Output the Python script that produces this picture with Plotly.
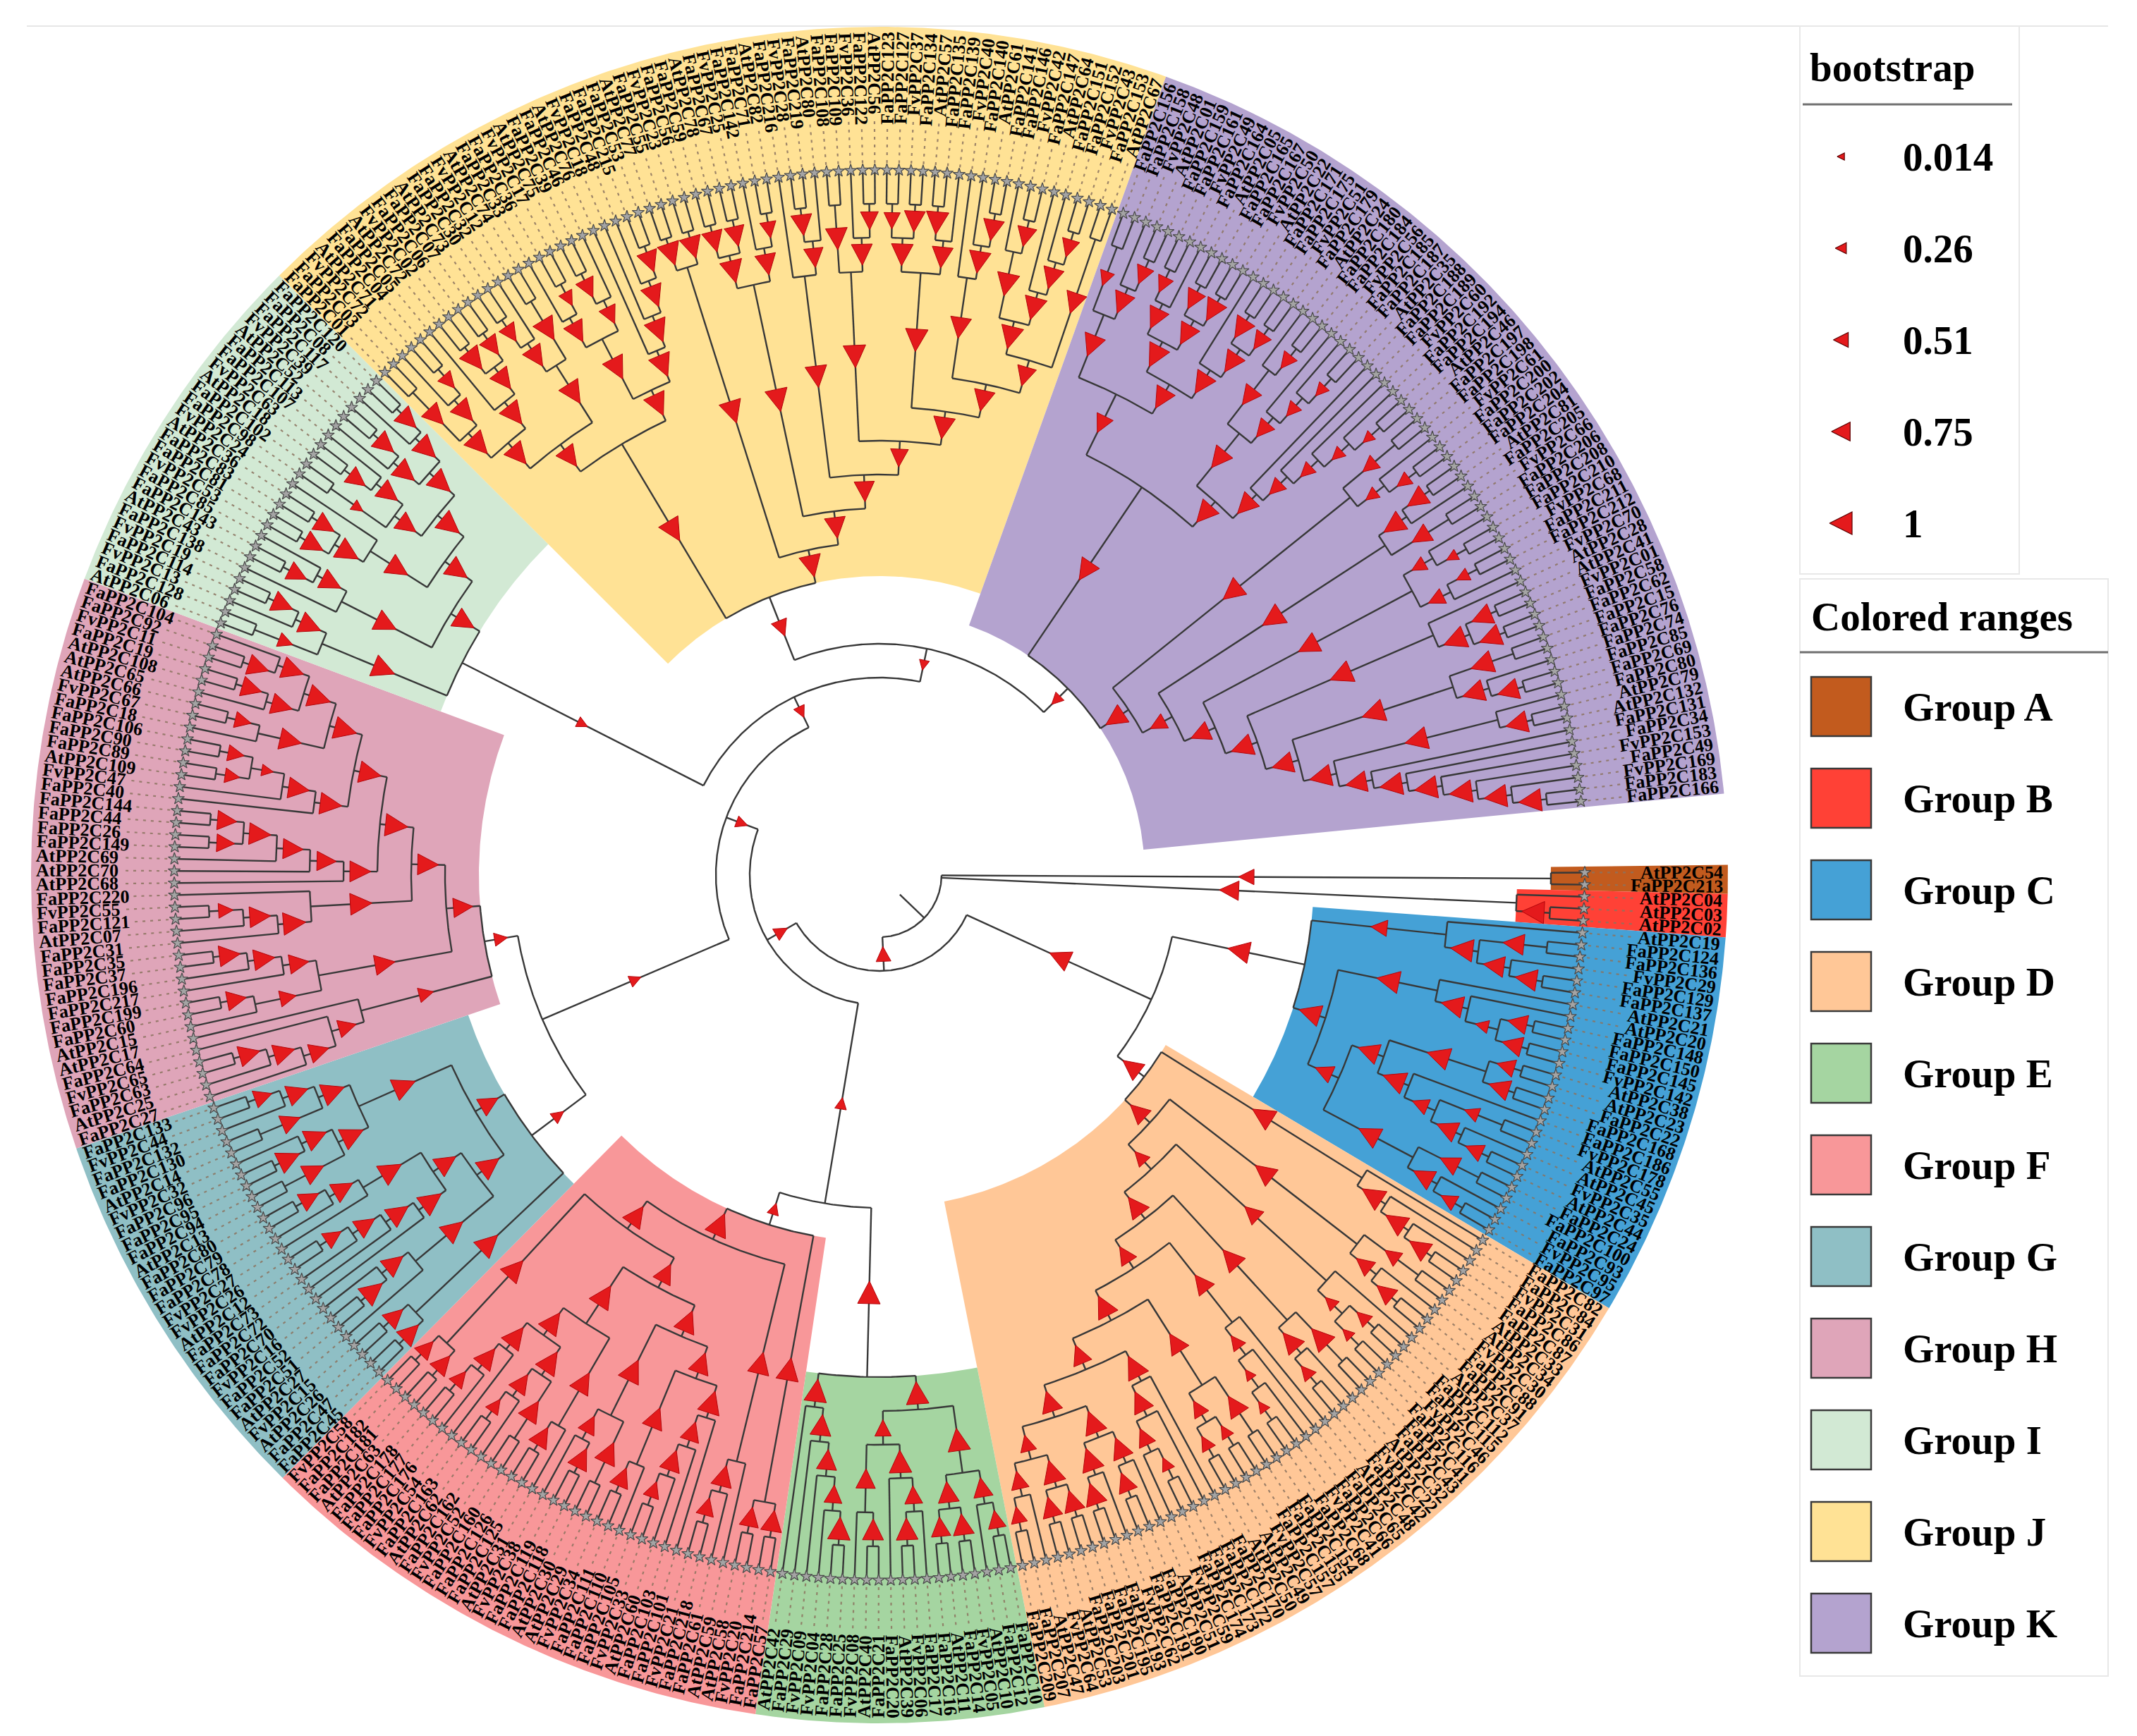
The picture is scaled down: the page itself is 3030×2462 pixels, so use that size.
import math
import plotly.graph_objects as go

# ---------------------------------------------------------------- data
GROUPS = ["A", "B", "C", "D", "E", "F", "G", "H", "I", "J", "K"]
GROUP_COLORS = ["#c25b1e", "#ff4136", "#45a1d6", "#ffc797", "#a5d5a1", "#f89799",
                "#8fbfc5", "#dfa5b9", "#d2e9d4", "#ffe295", "#b4a3cf"]
BOOT_LEGEND = [0.014, 0.26, 0.51, 0.75, 1]

# backbone joining the groups, support value after each ")"
BACKBONE = "(A,B,((C,D)0.9,((E,F)0.3,((G,H)0.3,(I,(J,K)0.2)0.3)0.3)0.4)0.5)"

# group subtrees: "*" takes the next name of the group list
NAMES_A = ["AtPP2C54", "FaPP2C213"]
TOPO_A = "(*,*)0.55"

NAMES_B = ["AtPP2C04", "AtPP2C03", "AtPP2C02"]
TOPO_B = "(*,(*,*)0.98)0.8"

NAMES_C = ["AtPP2C19", "FaPP2C124", "FaPP2C136", "FvPP2C29", "FaPP2C129", "FaPP2C137",
           "AtPP2C21", "AtPP2C20", "FaPP2C148", "FaPP2C150", "FaPP2C145", "FvPP2C142",
           "AtPP2C38", "AtPP2C23", "FaPP2C22", "FaPP2C168", "FaPP2C186", "FvPP2C178",
           "AtPP2C55", "AtPP2C45", "FvPP2C35", "AtPP2C44", "FaPP2C24", "FaPP2C100",
           "FaPP2C93", "FvPP2C95", "FaPP2C97"]
C_1 = "(*,((*,*)0.9,(*,(*,*)0.95)0.9)1)0.6"
C_2 = "(*,(*,((*,*)0.8,(*,*)0.85)0.4)0.95)1"
C_3 = "((*,*)0.7,(*,*)0.9)1"
C_4 = "(*,((*,*)0.5,(*,(*,*)0.7)0.9)0.6)1"
C_5 = "((*,*)0.8,(*,(*,*)0.6)0.9)0.95"
TOPO_C = f"({C_1},({C_2},(({C_3},{C_4})0.9,{C_5})0.7)0.95)0.95"

NAMES_D = ["FaPP2C82", "FaPP2C84", "FvPP2C31", "FaPP2C86", "FaPP2C87", "AtPP2C33", "AtPP2C34",
           "FvPP2C30", "FaPP2C88", "FaPP2C91", "AtPP2C37", "FaPP2C112", "FaPP2C115", "FvPP2C46",
           "FaPP2C116", "FaPP2C41", "FaPP2C43", "AtPP2C32", "FvPP2C22", "FaPP2C42", "AtPP2C48",
           "FaPP2C65", "FaPP2C66", "FvPP2C41", "FaPP2C68", "FaPP2C154", "FaPP2C155", "FaPP2C157",
           "FvPP2C57", "AtPP2C49", "AtPP2C50", "FaPP2C170", "FaPP2C172", "FaPP2C173", "FaPP2C174",
           "FvPP2C59", "AtPP2C51", "FaPP2C190", "FaPP2C191", "FvPP2C62", "FaPP2C193", "FaPP2C195",
           "FaPP2C201", "FaPP2C203", "AtPP2C53", "FvPP2C64", "AtPP2C47", "FaPP2C207", "FaPP2C209"]
D_a = "(*,(*,(*,(*,*)0.9)0.95)1)0.98"
D_b = "((*,*)0.6,(*,(*,*)0.8)0.7)0.9"
D_c = "(*,((*,*)0.5,(*,*)0.3)0.4)0.7"
D_d = "((*,*)1,(*,(*,*)0.5)0.9)0.95"
D_e = "(*,(*,(*,(*,*)0.3)0.25)0.5)0.8"
D_f = "((*,*)0.9,((*,*)0.4,(*,*)0.5)0.6)0.85"
D_g = "(*,(*,((*,*)0.4,*)0.7)0.9)1"
D_h = "((*,(*,*)0.8)0.9,(*,(*,*)0.95)1)1"
D_i = "((*,*)0.9,(*,*)0.85)1"
D_j = "(*,(*,*)0.6)0.7"
TOPO_D = (f"({D_a},({D_b},({D_c},({D_d},({D_e},({D_f},({D_g},({D_h},({D_i},{D_j})0.6)0.9)"
          f"0.8)0.95)0.7)0.9)0.5)0.8)0.85")

NAMES_E = ["FaPP2C10", "FaPP2C12", "AtPP2C10", "FvPP2C05", "FaPP2C14", "AtPP2C11", "FaPP2C16",
           "FaPP2C17", "FvPP2C06", "AtPP2C39", "FaPP2C20", "FaPP2C21", "AtPP2C40", "FvPP2C08",
           "FaPP2C25", "FaPP2C28", "FvPP2C04", "FvPP2C09", "FaPP2C29", "AtPP2C42"]
E_l1 = "(((*,*)0.7,*)0.8,((*,*)0.9,(*,*)0.8)0.9)1"
E_l2 = "(((*,(*,*)0.95)0.7,*)1,((*,*)0.9,*)0.8)0.6"
E_r = "(((((*,*)1,*)0.7,*)0.85,*)0.9,*)1"
TOPO_E = f"(({E_l1},{E_l2})1,{E_r})1"

NAMES_F = ["FaPP2C57", "FaPP2C214", "FvPP2C20", "AtPP2C58", "AtPP2C59", "FaPP2C61", "FaPP2C218",
           "FvPP2C21", "FaPP2C101", "FaPP2C103", "AtPP2C60", "FvPP2C33", "FaPP2C105", "FaPP2C110",
           "FaPP2C111", "FvPP2C34", "AtPP2C29", "AtPP2C30", "FaPP2C118", "FaPP2C119", "FvPP2C38",
           "AtPP2C31", "FaPP2C125", "FaPP2C126", "FaPP2C160", "FvPP2C52", "FaPP2C162", "AtPP2C62",
           "FaPP2C163", "FvPP2C54", "FaPP2C176", "FaPP2C177", "FaPP2C178", "AtPP2C63", "FaPP2C181",
           "FaPP2C182", "FvPP2C58"]
F_a = "((*,*)0.9,(*,*)0.8)1"
F_b = "(*,(*,(*,*)0.7)0.9)0.95"
F_c = "(*,(*,(*,(*,*)0.6)0.9)0.8)1"
F_d = "(*,(*,*)0.8)0.9"
F_e = "((*,*)0.95,((*,*)0.9,*)0.7)1"
F_f = "(*,(*,*)0.85)0.9"
F_g = "((*,*)0.9,(*,(*,*)0.5)0.8)1"
F_h = "(*,(*,(*,*)0.6)0.9)0.95"
F_i = "((*,*)0.8,(*,*)0.7)0.95"
TOPO_F = f"({F_a},({F_b},(((({F_c},{F_d})0.9,{F_e})0.95,({F_f},({F_g},{F_h})0.95)1)0.8,{F_i})0.9)1)0.3"

NAMES_G = ["FaPP2C45", "FaPP2C47", "AtPP2C26", "FvPP2C15", "AtPP2C27", "FaPP2C51", "FaPP2C52",
           "FvPP2C16", "FaPP2C70", "FaPP2C72", "FaPP2C73", "AtPP2C12", "FvPP2C26", "FvPP2C27",
           "FaPP2C78", "FaPP2C79", "FaPP2C80", "AtPP2C13", "FaPP2C94", "FaPP2C95", "FaPP2C96",
           "FvPP2C32", "AtPP2C14", "FaPP2C130", "FaPP2C132", "FvPP2C44", "FaPP2C133"]
G_a = "((*,*)0.9,(*,*)0.8)1"
G_b = "(*,((*,*)1,*)0.9)0.95"
G_c = "(*,(*,(*,(*,*)0.7)0.85)0.95)1"
G_d = "(*,(*,(*,*)0.8)0.9)1"
G_e = "((*,*)0.9,((*,*)1,*)0.95)1"
G_f = "((*,*)0.8,(*,(*,*)0.7)0.9)1"
TOPO_G = f"({G_a},(({G_b},({G_c},{G_d})0.9)0.95,({G_e},{G_f})1)0.8)0.35"

# group H is listed as read on the page, top to bottom (mirrored later)
NAMES_H = ["FaPP2C104", "FaPP2C92", "FvPP2C11", "FaPP2C19", "AtPP2C108", "AtPP2C65", "AtPP2C66",
           "FvPP2C67", "FaPP2C18", "FaPP2C106", "FaPP2C90", "FaPP2C89", "AtPP2C109", "FvPP2C47",
           "FaPP2C40", "FaPP2C144", "FaPP2C44", "FaPP2C26", "FaPP2C149", "AtPP2C69", "AtPP2C70",
           "AtPP2C68", "FaPP2C220", "FvPP2C55", "FaPP2C121", "AtPP2C07", "FaPP2C31", "FaPP2C35",
           "FaPP2C37", "FaPP2C196", "FaPP2C217", "FaPP2C199", "FaPP2C60", "AtPP2C15", "AtPP2C17",
           "FaPP2C64", "FvPP2C65", "FaPP2C63", "AtPP2C25", "FaPP2C27"]
H_a = "(((*,(*,*)0.9)0.95,((*,*)0.85,*)0.9)1,((*,*)0.6,*)0.95)1"
H_b = "((((*,*)0.6,(*,*)0.5)0.3,*)0.9,*)0.95"
H_c = "(((((*,*)0.8,(*,*)0.7)0.95,*)0.85,*)0.8,*)0.9"
H_d = "(*,(((*,*)0.5,*)0.9,*)1)0.95"
H_e = "((((*,*)0.9,*)0.9,*)0.8,((*,*)0.8,*)0.6)0.85"
H_f = "(*,(*,(((*,*)0.9,*)0.9,*)0.8)0.7)0.5"
TOPO_H = f"((((({H_a},{H_b})0.95,{H_c})1,{H_d})0.9,{H_e})0.8,{H_f})0.4"
MIRRORED = ["H"]

NAMES_I = ["AtPP2C06", "FaPP2C128", "FvPP2C13", "FaPP2C114", "FvPP2C19", "FaPP2C138", "AtPP2C43",
           "FaPP2C143", "FaPP2C85", "FvPP2C53", "FaPP2C81", "FaPP2C83", "AtPP2C36", "FvPP2C24",
           "FaPP2C98", "FaPP2C102", "AtPP2C18", "FvPP2C63", "FaPP2C107", "FaPP2C113", "AtPP2C52",
           "FvPP2C39", "FaPP2C117", "FaPP2C08", "FaPP2C120"]
I_a = "((*,*)0.5,(*,(*,*)0.9)0.95)1"
I_b = "(*,((*,*)0.8,*)0.9)0.95"
I_c = "(((*,*)0.9,(*,*)0.85)1,*)0.95"
I_d = "((*,*)0.3,((*,*)0.8,*)0.9)0.85"
I_e = "((*,(*,*)0.9)0.95,(*,(*,*)0.9)1)1"
TOPO_I = f"({I_a},({I_b},({I_c},({I_d},{I_e})1)0.95)0.9)0.25"

NAMES_J = ["FaPP2C01", "FaPP2C03", "FvPP2C72", "AtPP2C71", "FaPP2C04", "FaPP2C05", "AtPP2C72",
           "FvPP2C02", "FaPP2C06", "FaPP2C07", "AtPP2C73", "FaPP2C30", "FaPP2C32", "FvPP2C12",
           "AtPP2C74", "FaPP2C33", "FaPP2C36", "FvPP2C17", "AtPP2C75", "FaPP2C39", "FaPP2C46",
           "AtPP2C76", "FvPP2C18", "FaPP2C48", "FaPP2C215", "FaPP2C53", "AtPP2C77", "FaPP2C55",
           "FvPP2C23", "FaPP2C56", "FaPP2C59", "AtPP2C78", "FaPP2C67", "FvPP2C25", "FaPP2C142",
           "FaPP2C71", "AtPP2C82", "FaPP2C216", "FvPP2C28", "FaPP2C219", "AtPP2C80", "FaPP2C108",
           "FaPP2C109", "FvPP2C36", "FaPP2C122", "AtPP2C56", "FaPP2C123", "FaPP2C127", "FvPP2C37",
           "FaPP2C134", "AtPP2C57", "FaPP2C135", "FaPP2C139", "FvPP2C40", "FaPP2C140", "AtPP2C61",
           "FaPP2C141", "FaPP2C146", "FvPP2C42", "FaPP2C147", "AtPP2C64", "FaPP2C151", "FaPP2C152",
           "FvPP2C43", "FaPP2C153", "AtPP2C67"]
J_1 = "((*,*)0.9,(*,(*,*)0.6)0.95)1"
J_2 = "(*,((*,*)1,(*,*)0.8)0.9)1"
J_3 = "(((*,*)0.7,*)0.9,(*,*)1)1"
J_4 = "((*,(*,*)0.5)0.9,((*,*)0.8,*)0.7)1"
J_5 = "(*,(*,(*,(*,*)0.9)0.95)1)1"
J_6 = "((*,*)1,(*,*)0.95)1"
J_7 = "(((*,*)0.9,(*,*)0.85)1,(*,(*,*)0.6)0.9)1"
J_8 = "(*,((*,*)0.9,*)0.8)0.95"
J_9 = "((*,*)0.95,(*,(*,*)0.7)0.9)1"
J_10 = "(((*,*)0.6,(*,*)0.9)0.95,((*,*)1,*)0.9)1"
J_11 = "(*,(*,(*,*)0.9)0.95)0.9"
J_12 = "((*,(*,*)0.8)1,(*,(*,(*,*)0.7)0.9)1)1"
J_13 = "(*,*)0.9"
TOPO_J = (f"(((({J_1},{J_2})0.95,{J_3})0.9,({J_4},{J_5})1)1,({J_6},({J_7},({J_8},({J_9},"
          f"({J_10},({J_11},({J_12},{J_13})0.8)0.9)0.95)0.7)0.85)0.9)0.95)0.6")

NAMES_K = ["FaPP2C156", "FaPP2C158", "FvPP2C48", "AtPP2C01", "FaPP2C159", "FaPP2C161", "FvPP2C49",
           "FaPP2C164", "AtPP2C05", "FaPP2C165", "FaPP2C167", "FvPP2C50", "AtPP2C22", "FaPP2C171",
           "FaPP2C175", "FvPP2C51", "FaPP2C179", "AtPP2C24", "FaPP2C180", "FaPP2C184", "FvPP2C56",
           "FaPP2C185", "FaPP2C187", "AtPP2C35", "FaPP2C188", "FaPP2C189", "FvPP2C60", "FaPP2C192",
           "FaPP2C194", "AtPP2C46", "FaPP2C197", "FaPP2C198", "FvPP2C61", "FaPP2C200", "FaPP2C202",
           "FaPP2C204", "AtPP2C81", "FaPP2C205", "FvPP2C66", "FaPP2C206", "FaPP2C208", "FaPP2C210",
           "FvPP2C68", "FaPP2C211", "FaPP2C212", "FvPP2C70", "AtPP2C28", "AtPP2C41", "FvPP2C01",
           "FaPP2C58", "FaPP2C62", "FaPP2C15", "FaPP2C76", "FaPP2C74", "FaPP2C85", "FaPP2C69",
           "FaPP2C80", "AtPP2C79", "AtPP2C132", "FaPP2C131", "FaPP2C34", "FvPP2C153", "FaPP2C49",
           "FvPP2C169", "FaPP2C183", "FaPP2C166"]
K_1 = "((*,*)0.5,(*,(*,*)0.7)0.9)0.95"
K_2 = "(((*,*)0.6,*)0.9,((*,*)0.8,(*,*)0.95)0.9)1"
K_3 = "(*,((*,*)0.9,(*,*)0.7)0.9)0.95"
K_4 = "((*,(*,*)0.6)0.8,(*,(*,(*,*)0.4)0.5)0.7)0.9"
K_5 = "(*,(*,(*,(*,(*,*)0.3)0.4)0.5)0.6)0.9"
K_6 = "((*,*)0.6,(*,(*,*)0.5)0.4)0.95"
K_7 = "(((*,*)0.9,*)0.95,(*,*)0.8)1"
K_8 = "((*,(*,*)0.3)0.5,((*,*)0.4,*)0.6)0.9"
K_9 = "(*,((*,*)0.9,(*,*)0.95)1)1"
K_10 = "((*,*)1,(*,(*,*)0.9)0.95)1"
K_11 = "(*,(*,*)0.95)1"
K_13 = "(*,(*,*)1)1"
TOPO_K = (f"((({K_1},({K_2},{K_3})0.9)0.7,({K_4},{K_5})0.95)0.9,({K_6},({K_7},({K_8},({K_9},"
          f"({K_10},({K_11},(*,(*,(*,(*,{K_13})1)1)1)0.9)0.95)0.9)0.95)0.8)0.6)0.9)0.3")

TOPOS = [TOPO_A, TOPO_B, TOPO_C, TOPO_D, TOPO_E, TOPO_F, TOPO_G, TOPO_H, TOPO_I, TOPO_J, TOPO_K]
NAMES = [NAMES_A, NAMES_B, NAMES_C, NAMES_D, NAMES_E, NAMES_F, NAMES_G, NAMES_H, NAMES_I,
         NAMES_J, NAMES_K]

# ---------------------------------------------------------------- geometry
W, H = 3030, 2462
CX, CY = 1239, 1233
R_TIP, R_ROOT = 1000, 88
R_END, R_OUT = 1196, 1203
THETA0, ARC = 0.2, 354.2
LABEL_SIZE = 26
FONT = "Liberation Serif, Times New Roman, serif"
CHAR_W = {"A": 722, "t": 333, "P": 611, "C": 722, "F": 611, "a": 500, "v": 500}
TRI_RED = "#e41a1c"


def text_w(s, size):
    return sum(CHAR_W.get(c, 500) for c in s) / 1000 * size


def parse(s, names=None):
    s = s.replace(" ", "")
    pos = 0
    it = iter(names or [])

    def label():
        nonlocal pos
        st = pos
        while pos < len(s) and s[pos] not in ",()":
            pos += 1
        return s[st:pos]

    def node():
        nonlocal pos
        if s[pos] == "(":
            pos += 1
            kids = [node()]
            while s[pos] == ",":
                pos += 1
                kids.append(node())
            pos += 1
            lab = label()
            return {"kids": kids, "sup": float(lab) if lab else None}
        lab = label()
        return {"name": next(it) if lab == "*" else lab}

    return node()


def mirror(n):
    if "kids" in n:
        n["kids"] = [mirror(k) for k in n["kids"][::-1]]
    return n


def tag(n, g):
    if "kids" in n:
        for k in n["kids"]:
            tag(k, g)
    else:
        n["g"] = g


group_root = {}
for g, topo, names in zip(GROUPS, TOPOS, NAMES):
    assert topo.count("*") == len(names), (g, topo.count("*"), len(names))
    t = parse(topo, names)
    if g in MIRRORED:
        mirror(t)
    tag(t, g)
    group_root[g] = t


def subst(n):
    if "kids" in n:
        n["kids"] = [subst(k) for k in n["kids"]]
        return n
    return group_root[n["name"]]


root = subst(parse(BACKBONE))
leaves = []


def index(n, parent=None):
    n["parent"] = parent
    if "kids" in n:
        for k in n["kids"]:
            index(k, n)
        n["h"] = 1 + max(k["h"] for k in n["kids"])
    else:
        n["h"] = 0
        leaves.append(n)


index(root)
DT = ARC / (len(leaves) - 1)
for i, lf in enumerate(leaves):
    lf["t"] = THETA0 - i * DT


def angles(n):
    if "kids" in n:
        for k in n["kids"]:
            angles(k)
        n["t"] = (n["kids"][0]["t"] + n["kids"][-1]["t"]) / 2


angles(root)
STEP = (R_TIP - R_ROOT) / root["h"]


def rad(n):
    return R_TIP - n["h"] * STEP


def xy(r, t):
    a = math.radians(t)
    return CX + r * math.cos(a), CY - r * math.sin(a)


def arc_pts(r, t0, t1, step=0.4):
    n = max(2, int(abs(t1 - t0) / step) + 2)
    return [xy(r, t0 + (t1 - t0) * k / (n - 1)) for k in range(n)]


def tri_size(v):
    return 10 + 22 * v


def tri_pts(px, py, t, s):
    # triangle centred on (px, py), tip pointing along screen angle t+180 (toward centre)
    a = math.radians(t)
    ux, uy = math.cos(a), -math.sin(a)
    vx, vy = -uy, ux
    tip = (px - ux * s / 2, py - uy * s / 2)
    bc = (px + ux * s / 2, py + uy * s / 2)
    return [tip, (bc[0] + vx * s / 2, bc[1] + vy * s / 2),
            (bc[0] - vx * s / 2, bc[1] - vy * s / 2), tip]


fig = go.Figure()

# colored ranges
for g, col in zip(GROUPS, GROUP_COLORS):
    lv = [lf for lf in leaves if lf["g"] == g]
    t0, t1 = lv[0]["t"] + DT / 2, lv[-1]["t"] - DT / 2
    r_in = rad(group_root[g])
    pts = arc_pts(R_OUT, t0, t1) + arc_pts(r_in, t1, t0)
    fig.add_trace(go.Scatter(x=[p[0] for p in pts], y=[p[1] for p in pts], fill="toself",
                             fillcolor=col, line=dict(width=0), mode="lines",
                             hoverinfo="skip"))

# dotted leader lines
dx, dy = [], []
for lf in leaves:
    w = text_w(lf["name"], LABEL_SIZE)
    for p in (xy(R_TIP + 10, lf["t"]), xy(R_END - w - 6, lf["t"])):
        dx.append(p[0])
        dy.append(p[1])
    dx.append(None)
    dy.append(None)
fig.add_trace(go.Scatter(x=dx, y=dy, mode="lines", hoverinfo="skip",
                         line=dict(color="rgba(140,115,95,0.85)", width=2.2, dash="4px,7px")))

# branches
bx, by = [], []


def add_seg(pts, xs, ys):
    for p in pts:
        xs.append(p[0])
        ys.append(p[1])
    xs.append(None)
    ys.append(None)


def branches(n):
    if "kids" not in n:
        return
    r = rad(n)
    add_seg(arc_pts(r, n["kids"][0]["t"], n["kids"][-1]["t"]), bx, by)
    for k in n["kids"]:
        add_seg([xy(r, k["t"]), xy(rad(k), k["t"])], bx, by)
        branches(k)


branches(root)
add_seg([xy(rad(root), root["t"]), xy(rad(root) - STEP, root["t"])], bx, by)
fig.add_trace(go.Scatter(x=bx, y=by, mode="lines", hoverinfo="skip",
                         line=dict(color="#383838", width=2.4)))

# leaf stars
sp = [xy(R_TIP, lf["t"]) for lf in leaves]
fig.add_trace(go.Scatter(x=[p[0] for p in sp], y=[p[1] for p in sp], mode="markers",
                         hoverinfo="skip",
                         marker=dict(symbol="star", size=13, color="#a4a4a4",
                                     line=dict(color="#4a4a4a", width=1.2))))

# bootstrap triangles (placed half way along the branch leading to the node)
tx, ty = [], []


def triangles(n):
    if "kids" not in n:
        return
    if n["parent"] is not None and n["sup"] is not None:
        r = (rad(n) + rad(n["parent"])) / 2
        p = xy(r, n["t"])
        add_seg(tri_pts(p[0], p[1], n["t"], tri_size(n["sup"])), tx, ty)
    for k in n["kids"]:
        triangles(k)


triangles(root)
fig.add_trace(go.Scatter(x=tx, y=ty, mode="lines", fill="toself", fillcolor=TRI_RED,
                         hoverinfo="skip", line=dict(color="#b3060b", width=1)))

# leaf labels
annotations = []
for lf in leaves:
    w = text_w(lf["name"], LABEL_SIZE)
    x, y = xy(R_END - w / 2, lf["t"])
    t = lf["t"]
    ang = -t if math.cos(math.radians(t)) >= 0 else 180 - t
    ang = (ang + 180) % 360 - 180
    annotations.append(dict(x=x, y=y, xref="x", yref="y", text=f"<b>{lf['name']}</b>",
                            showarrow=False, xanchor="center", yanchor="middle",
                            textangle=ang, font=dict(family=FONT, size=LABEL_SIZE,
                                                     color="black")))

# ---------------------------------------------------------------- legends
LEG_FONT = dict(family=FONT, size=57, color="black")
shapes = [
    dict(type="line", x0=30, x1=2981, y0=29, y1=29, line=dict(color="#e6e6e6", width=2)),
    dict(type="rect", x0=2544, x1=2855, y0=29, y1=806, line=dict(color="#e8e8e8", width=2)),
    dict(type="line", x0=2548, x1=2845, y0=140, y1=140, line=dict(color="#707070", width=3)),
    dict(type="rect", x0=2544, x1=2981, y0=813, y1=2369, line=dict(color="#e8e8e8", width=2)),
    dict(type="line", x0=2544, x1=2981, y0=917, y1=917, line=dict(color="#707070", width=3)),
]
annotations.append(dict(x=2556, y=87, xref="x", yref="y", text="<b>bootstrap</b>",
                        showarrow=False, xanchor="left", yanchor="middle", font=LEG_FONT))
annotations.append(dict(x=2558, y=866, xref="x", yref="y", text="<b>Colored ranges</b>",
                        showarrow=False, xanchor="left", yanchor="middle", font=LEG_FONT))

lx, ly = [], []
for k, v in enumerate(BOOT_LEGEND):
    y = 214 + 130 * k
    add_seg(tri_pts(2602, y, 0, tri_size(v)), lx, ly)
    annotations.append(dict(x=2688, y=y, xref="x", yref="y", text=f"<b>{v:g}</b>",
                            showarrow=False, xanchor="left", yanchor="middle", font=LEG_FONT))
fig.add_trace(go.Scatter(x=lx, y=ly, mode="lines", fill="toself", fillcolor=TRI_RED,
                         hoverinfo="skip", line=dict(color="#5a0000", width=1.2)))

for k, (g, col) in enumerate(zip(GROUPS, GROUP_COLORS)):
    yc = 994 + 130 * k
    shapes.append(dict(type="rect", x0=2560, x1=2645, y0=yc - 42, y1=yc + 42,
                       fillcolor=col, line=dict(color="#3a3a3a", width=2.5)))
    annotations.append(dict(x=2688, y=yc, xref="x", yref="y", text=f"<b>Group {g}</b>",
                            showarrow=False, xanchor="left", yanchor="middle", font=LEG_FONT))

fig.update_layout(
    width=W, height=H,
    margin=dict(l=0, r=0, t=0, b=0),
    paper_bgcolor="white", plot_bgcolor="white",
    showlegend=False,
    xaxis=dict(range=[0, W], visible=False, fixedrange=True),
    yaxis=dict(range=[H, 0], visible=False, fixedrange=True),
    shapes=shapes,
    annotations=annotations,
)

fig.write_html("out.html")
